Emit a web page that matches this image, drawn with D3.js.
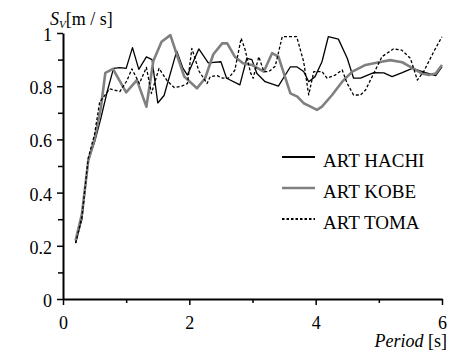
<!DOCTYPE html>
<html>
<head>
<meta charset="utf-8">
<script src="https://cdn.jsdelivr.net/npm/d3@7"></script>
<style>
  body { margin: 0; background: #fff; }
</style>
</head>
<body>
<div id="chart"></div>
<script>
// series (Period [s] -> Sv [m/s])
const hachiPeriod = [0.2,0.3,0.4,0.5,0.6,0.7,0.8,0.9,1.0,1.1,1.2,1.32,1.41,1.5,1.6,1.8,1.9,1.97,2.15,2.3,2.5,2.59,2.8,2.91,2.99,3.07,3.2,3.41,3.6,3.7,3.81,3.89,3.99,4.1,4.2,4.36,4.5,4.6,4.71,4.92,5.08,5.21,5.37,5.53,5.74,5.9,6.0];
const hachiSv = [0.21,0.30,0.52,0.59,0.68,0.78,0.867,0.87,0.867,0.945,0.863,0.91,0.90,0.737,0.765,0.932,0.867,0.842,0.94,0.888,0.892,0.83,0.805,0.905,0.90,0.848,0.817,0.80,0.873,0.873,0.855,0.817,0.836,0.892,0.986,0.977,0.905,0.83,0.83,0.851,0.85,0.836,0.851,0.867,0.851,0.84,0.873];

const kobePeriod = [0.2,0.3,0.4,0.5,0.6,0.67,0.79,1.0,1.17,1.32,1.43,1.56,1.7,1.8,1.92,2.12,2.25,2.38,2.52,2.6,2.72,2.85,2.99,3.18,3.31,3.41,3.6,3.71,3.81,3.92,4.02,4.1,4.26,4.42,4.58,4.79,5.0,5.18,5.37,5.5,5.68,5.79,5.9,6.0];
const kobeSv = [0.22,0.32,0.52,0.60,0.72,0.85,0.865,0.777,0.823,0.723,0.895,0.967,0.992,0.92,0.836,0.792,0.83,0.92,0.961,0.961,0.911,0.886,0.88,0.855,0.924,0.911,0.773,0.761,0.736,0.723,0.711,0.723,0.767,0.817,0.855,0.88,0.89,0.898,0.89,0.873,0.848,0.842,0.848,0.88];

const tomaPeriod = [0.2,0.3,0.4,0.5,0.58,0.74,0.9,1.01,1.09,1.21,1.32,1.4,1.52,1.65,1.76,1.88,1.97,2.04,2.15,2.28,2.33,2.44,2.53,2.62,2.72,2.82,2.88,2.97,3.01,3.1,3.18,3.26,3.36,3.47,3.7,3.81,3.89,3.97,4.1,4.18,4.31,4.42,4.5,4.6,4.71,4.79,5.05,5.23,5.36,5.5,5.61,5.71,5.87,6.0];
const tomaSv = [0.21,0.31,0.53,0.62,0.74,0.79,0.78,0.82,0.865,0.81,0.871,0.773,0.867,0.82,0.795,0.80,0.81,0.942,0.858,0.81,0.836,0.84,0.83,0.83,0.86,0.98,0.94,0.85,0.83,0.911,0.855,0.855,0.875,0.986,0.986,0.892,0.767,0.855,0.855,0.83,0.842,0.861,0.81,0.767,0.767,0.786,0.911,0.94,0.936,0.905,0.823,0.855,0.93,0.986];

const seriesNames = ["ART HACHI", "ART KOBE", "ART TOMA"];
const xMajorTicks = [0, 2, 4, 6];
const xMinorTicks = [1, 3, 5];
const yMajorTicks = [0, 0.2, 0.4, 0.6, 0.8, 1];
const yMinorTicks = [0.1, 0.3, 0.5, 0.7, 0.9];

const width = 449, height = 350;
const serif = "'Liberation Serif'";

const series = [
    {name: seriesNames[0], period: hachiPeriod, sv: hachiSv, stroke: "#000", width: 1.3, dash: null},
    {name: seriesNames[1], period: kobePeriod, sv: kobeSv, stroke: "#808080", width: 2.6, dash: null},
    {name: seriesNames[2], period: tomaPeriod, sv: tomaSv, stroke: "#000", width: 1.3, dash: "3,2"}
];

const svg = d3.select("#chart").append("svg")
    .attr("width", width)
    .attr("height", height);

const x = d3.scaleLinear().domain([0, 6]).range([63, 442]);
const y = d3.scaleLinear().domain([0, 1]).range([299, 33]);

const fmt = d => String(d);

// y axis
svg.append("g")
    .attr("transform", `translate(${x(0)},0)`)
    .call(d3.axisLeft(y).tickValues(yMinorTicks).tickSize(5).tickSizeOuter(0).tickFormat(""))
    .call(g => g.select(".domain").remove());
const yAxis = svg.append("g")
    .attr("transform", `translate(${x(0)},0)`)
    .call(d3.axisLeft(y).tickValues(yMajorTicks).tickSize(6).tickSizeOuter(0).tickPadding(5).tickFormat(fmt));
yAxis.selectAll("text").attr("dy", "0.42em");

// x axis
svg.append("g")
    .attr("transform", `translate(0,${y(0)})`)
    .call(d3.axisBottom(x).tickValues(xMinorTicks).tickSize(4).tickSizeOuter(0).tickFormat(""))
    .call(g => g.select(".domain").remove());
const xAxis = svg.append("g")
    .attr("transform", `translate(0,${y(0)})`)
    .call(d3.axisBottom(x).tickValues(xMajorTicks).tickSize(6).tickSizeOuter(0).tickPadding(11).tickFormat(fmt));

svg.selectAll("g").attr("font-family", null);
svg.selectAll(".tick line").attr("stroke", "#000").attr("stroke-width", 1.5);
svg.selectAll(".domain").attr("stroke", "#000").attr("stroke-width", 2);
svg.selectAll(".tick text")
    .attr("fill", "#000")
    .style("font-family", serif)
    .style("font-size", "18px");

// lines
const line = d3.line()
    .x(d => x(d[0]))
    .y(d => y(d[1]));

series.forEach(s => {
    svg.append("path")
        .datum(s.period.map((p, i) => [p, s.sv[i]]))
        .attr("fill", "none")
        .attr("stroke", s.stroke)
        .attr("stroke-width", s.width)
        .attr("stroke-dasharray", s.dash)
        .attr("stroke-linejoin", "round")
        .attr("d", line);
});

// legend
const legend = svg.append("g").attr("transform", "translate(282,157)");
series.forEach((s, i) => {
    const row = legend.append("g").attr("transform", `translate(0,${i * 31})`);
    row.append("line")
        .attr("x1", 0).attr("x2", 33)
        .attr("stroke", s.stroke)
        .attr("stroke-width", s.dash ? 2 : (s.width > 2 ? 2.6 : 2))
        .attr("stroke-dasharray", s.dash ? "2.5,2" : null);
    row.append("text")
        .attr("x", 41).attr("y", 10)
        .style("font-family", serif)
        .style("font-size", "19px")
        .text(s.name);
});

// axis titles
const yTitle = svg.append("text").attr("x", 50).attr("y", 25)
    .style("font-family", serif).style("font-size", "18px");
yTitle.append("tspan").style("font-style", "italic").text("S");
yTitle.append("tspan").style("font-style", "italic").style("font-size", "11px").attr("dy", 3).text("V");
yTitle.append("tspan").attr("dy", -3).text("[m / s]");

const xTitle = svg.append("text").attr("x", 447).attr("y", 347).attr("text-anchor", "end")
    .style("font-family", serif).style("font-size", "18px");
xTitle.append("tspan").style("font-style", "italic").text("Period");
xTitle.append("tspan").text(" [s]");
</script>
</body>
</html>
